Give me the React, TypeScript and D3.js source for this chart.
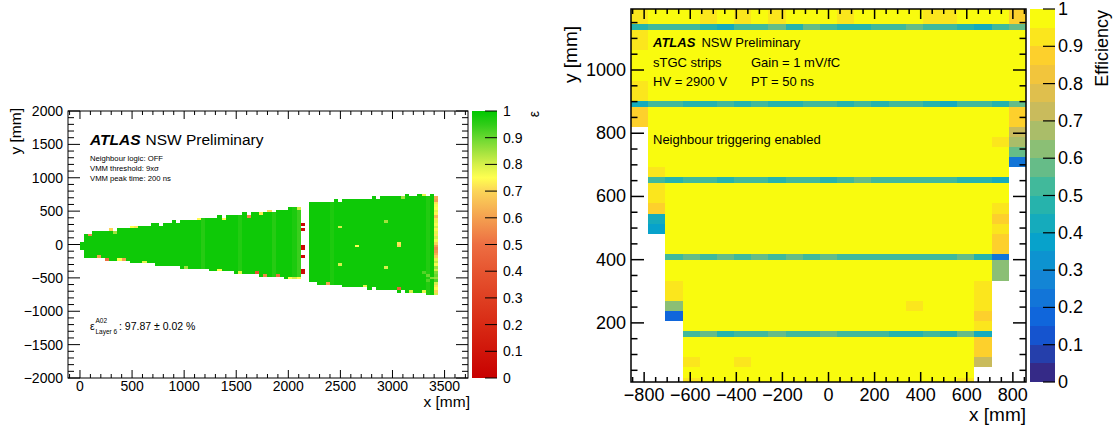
import React from "react";
import * as d3 from "d3";

const FONT = "'Liberation Sans', Arial, Helvetica, sans-serif";

// ---------- left panel: efficiency map, A02 layer 6 ----------
const leftBin = 40; // mm
// upper / lower edge (mm) of every 40 mm column, null = no cells
const leftColTop = [
  40, 160, 160, 200, 200, 200, 200, 240, 200, 240, 240, 240, 280, 280, 280, 280, 280, 320, 320, 280,
  320, 320, 360, 320, 360, 360, 360, 360, 400, 400, 400, 400, 400, 440, 400, 440, 440, 440, 440, 480,
  440, 480, 480, 480, 480, 520, 480, 520, 520, 520, 560, 560, 560, null, null,
  640, 640, 640, 640, 640, 640, 680, 640, 680, 680, 680, 680, 680, 680, 680, 720, 680, 720, 720, 720,
  720, 720, 720, 760, 720, 720, 760, 760, 720, 760, 720,
];
const leftColBottom = [
  -80, -200, -200, -200, -200, -200, -240, -240, -240, -240, -240, -240, -280, -280, -280, -280, -280, -280, -320, -320,
  -320, -320, -320, -320, -360, -360, -360, -360, -360, -360, -360, -400, -400, -400, -400, -400, -400, -440, -440, -440,
  -440, -440, -440, -480, -480, -480, -480, -480, -480, -520, -520, -520, -520, null, null,
  -560, -560, -600, -600, -600, -600, -600, -600, -640, -640, -640, -640, -640, -640, -680, -640, -680, -680, -680, -680,
  -680, -720, -680, -720, -720, -720, -720, -720, -760, -760, -760,
];
const leftBaseEff = 0.985;
// slightly weaker columns [x mm, eff]
const leftStripes = [[1180, 0.96], [1540, 0.965], [1860, 0.96], [2060, 0.97], [2100, 0.94], [2420, 0.97], [3340, 0.965]];
// individual cells [x mm, y mm, eff]
const leftSpots = [
  [100, 140, 0.55], [300, 220, 0.7], [340, 180, 0.85], [500, 260, 0.75], [540, 260, 0.72], [1140, 380, 0.75],
  [1380, 380, 0.75], [1620, 420, 0.55], [1740, 460, 0.73], [1820, 500, 0.7],
  [180, -180, 0.6], [260, -220, 0.5], [380, -220, 0.75], [420, -220, 0.6], [620, -260, 0.78], [1020, -340, 0.85],
  [1340, -380, 0.75], [1540, -420, 0.78], [1700, -420, 0.4], [1780, -460, 0.55], [1900, -460, 0.5],
  [2020, -500, 0.75], [2060, -500, 0.8], [2100, -500, 0.75], [2100, 540, 0.8],
  [2140, 300, 0.03], [2140, 220, 0.05], [2140, -20, 0.03], [2140, -60, 0.05], [2140, -180, 0.04],
  [2140, -380, 0.03], [2140, -420, 0.05],
  [2510, 267, 0.8], [2655, -18, 0.75], [2510, -292, 0.8], [2943, 352, 0.85], [3070, -8, 0.7], [3070, 30, 0.72],
  [2943, -342, 0.8], [2380, -590, 0.6], [2735, -630, 0.78], [3071, -670, 0.45], [3196, -700, 0.8],
  [3291, -700, 0.78], [3310, 740, 0.78], [3100, 700, 0.85],
  [3340, -460, 0.9], [3380, -500, 0.88], [3340, -540, 0.92], [3300, -420, 0.92],
  [3420, 700, 0.62], [3420, 660, 0.6], [3420, 620, 0.72], [3420, 580, 0.76], [3420, 540, 0.75], [3420, 500, 0.78],
  [3420, 460, 0.74], [3420, 420, 0.65], [3420, 380, 0.72], [3420, 340, 0.78], [3420, 300, 0.76], [3420, 260, 0.8],
  [3420, 220, 0.74], [3420, 180, 0.78], [3420, 140, 0.72], [3420, 100, 0.8], [3420, 60, 0.76], [3420, 20, 0.7],
  [3420, -20, 0.6], [3420, -60, 0.55], [3420, -100, 0.58], [3420, -140, 0.62], [3420, -180, 0.68],
  [3420, -220, 0.78], [3420, -260, 0.82], [3420, -300, 0.76], [3420, -340, 0.85], [3420, -380, 0.8],
  [3420, -420, 0.88], [3420, -460, 0.9], [3420, -500, 0.86], [3420, -540, 0.92], [3420, -580, 0.8],
  [3420, -620, 0.72], [3420, -660, 0.75], [3420, -700, 0.7], [3420, -740, 0.8],
];
const leftXTicks = [0, 500, 1000, 1500, 2000, 2500, 3000, 3500];
const leftYTicks = [-2000, -1500, -1000, -500, 0, 500, 1000, 1500, 2000];
const leftZTicks = [0, 0.1, 0.2, 0.3, 0.4, 0.5, 0.6, 0.7, 0.8, 0.9, 1];
const leftPalette: [number, string][] = [
  [0, "#c80000"], [0.2, "#d82a14"], [0.4, "#e65530"], [0.5, "#ed6e42"], [0.6, "#f4a050"], [0.7, "#fbd558"],
  [0.75, "#ffff50"], [0.8, "#d6f04a"], [0.85, "#a0e23e"], [0.9, "#68d830"], [0.95, "#30cc18"], [1, "#00c800"],
];

// ---------- right panel: sTGC strip efficiency ----------
const rightXRange = [-857, 857];
const rightNCols = 23;
const rightRowEdges = [13, 27, 59, 91, 123, 155, 174, 206, 238, 270, 302, 334, 366, 399, 418, 450, 482, 514, 546, 578,
  610, 643, 662, 693, 725, 757, 788, 820, 852, 883, 902, 934, 966, 998, 1030, 1062, 1094, 1125, 1147, 1193];
const rightColMinY = [820, 482, 206, 13, 13, 13, 13, 13, 13, 13, 13, 13, 13, 13, 13, 13, 13, 13, 13, 13, 59, 334, 693];
const rightBaseEff = 0.985;
const rightBandRows = [155, 399, 643, 883, 1125];
const rightBandEff = [
  [null, null, null, 0.52, 0.57, 0.48, 0.52, 0.52, 0.55, 0.52, 0.52, 0.57, 0.52, 0.52, 0.52, 0.48, 0.48, 0.52, 0.48, 0.55, 0.4, null, null],
  [null, null, 0.52, 0.57, 0.52, 0.57, 0.52, 0.57, 0.52, 0.57, 0.52, 0.57, 0.52, 0.52, 0.52, 0.52, 0.52, 0.52, 0.52, 0.57, 0.48, 0.22, null],
  [null, 0.52, 0.48, 0.52, 0.52, 0.48, 0.52, 0.52, 0.48, 0.52, 0.52, 0.48, 0.52, 0.57, 0.52, 0.52, 0.52, 0.52, 0.52, 0.48, 0.48, 0.42, null],
  [0.42, 0.52, 0.52, 0.48, 0.45, 0.52, 0.48, 0.52, 0.45, 0.48, 0.52, 0.52, 0.48, 0.52, 0.48, 0.52, 0.52, 0.48, 0.42, 0.52, 0.52, 0.48, 0.58],
  [0.48, 0.52, 0.52, 0.52, 0.48, 0.42, 0.52, 0.52, 0.57, 0.48, 0.57, 0.52, 0.48, 0.48, 0.52, 0.52, 0.57, 0.52, 0.52, 0.45, 0.42, 0.52, 0.57],
];
// [column, row lower edge mm, eff]
const rightSpecial = [
  [0, 1147, 0.93], [4, 1147, 0.93], [6, 1147, 0.93], [8, 1147, 0.93], [12, 1147, 0.93], [17, 1147, 0.93], [18, 1147, 0.93], [22, 1147, 0.88],
  [0, 1094, 0.93], [0, 1062, 0.93], [0, 934, 0.93], [0, 902, 0.93], [0, 852, 0.88], [0, 820, 0.88],
  [1, 662, 0.93], [1, 610, 0.93], [1, 578, 0.93], [1, 546, 0.87], [1, 514, 0.42], [1, 482, 0.37],
  [2, 302, 0.93], [2, 270, 0.93], [2, 238, 0.6], [2, 206, 0.15],
  [3, 59, 0.93], [3, 13, 0.93], [6, 59, 0.93], [16, 238, 0.93], [19, 13, 0.93],
  [20, 302, 0.93], [20, 270, 0.93], [20, 238, 0.93], [20, 206, 0.88], [20, 174, 0.93], [20, 123, 0.88], [20, 91, 0.88], [20, 59, 0.72],
  [21, 757, 0.93], [21, 546, 0.93], [21, 514, 0.88], [21, 482, 0.93], [21, 450, 0.88], [21, 418, 0.88], [21, 366, 0.6], [21, 334, 0.6],
  [22, 852, 0.87], [22, 820, 0.87], [22, 788, 0.72], [22, 757, 0.67], [22, 725, 0.57], [22, 693, 0.22],
];
const rightXTicks = [-800, -600, -400, -200, 0, 200, 400, 600, 800];
const rightYTicks = [200, 400, 600, 800, 1000];
const rightZTicks = [0, 0.1, 0.2, 0.3, 0.4, 0.5, 0.6, 0.7, 0.8, 0.9, 1];
const birdStops = [0, 0.125, 0.25, 0.375, 0.5, 0.625, 0.75, 0.875, 1];
const birdColors = ["#352a87", "#0f5cdd", "#1481d6", "#06a4ca", "#2eb7a4", "#87bf77", "#d1bb59", "#fec832", "#f9fb0e"];

const fmt = (v: number) => String(v).replace("-", "\u2212");

function Frame({ xs, ys, xMaj, xMin, yMaj, yMin, xLen, yLen, sw }: any) {
  const [l, r] = xs.range();
  const [b, t] = ys.range();
  const segs: number[][] = [];
  const addX = (v: number, len: number) => {
    const p = xs(v);
    segs.push([p, b, p, b - len], [p, t, p, t + len]);
  };
  const addY = (v: number, len: number) => {
    const p = ys(v);
    segs.push([l, p, l + len, p], [r, p, r - len, p]);
  };
  xMaj.forEach((v: number) => addX(v, xLen[0]));
  xMin.forEach((v: number) => addX(v, xLen[1]));
  yMaj.forEach((v: number) => addY(v, yLen[0]));
  yMin.forEach((v: number) => addY(v, yLen[1]));
  return (
    <g stroke="#000" strokeWidth={sw} fill="none">
      {segs.map((s, i) => (
        <line key={i} x1={s[0]} y1={s[1]} x2={s[2]} y2={s[3]} />
      ))}
      <rect x={l} y={t} width={r - l} height={b - t} />
    </g>
  );
}

function LeftPanel() {
  const xL = d3.scaleLinear().domain([-115, 3725]).range([68, 468]);
  const yL = d3.scaleLinear().domain([-2000, 2000]).range([378, 111]);
  const zL = d3.scaleLinear().domain([0, 1]).range([378, 111]);
  const color = d3
    .scaleLinear<string>()
    .domain(leftPalette.map((d) => d[0]))
    .range(leftPalette.map((d) => d[1]))
    .interpolate(d3.interpolateRgb)
    .clamp(true);

  // build the cell map from the outline, then the individual cells
  const cells = new Map<string, { c: number; r: number; e: number }>();
  leftColTop.forEach((top, c) => {
    const bot = leftColBottom[c];
    if (top === null || bot === null) return;
    const stripe = leftStripes.find((s) => Math.floor(s[0] / leftBin) === c);
    for (let r = bot / leftBin; r < top / leftBin; r++) {
      cells.set(`${c},${r}`, { c, r, e: stripe ? stripe[1] : leftBaseEff });
    }
  });
  leftSpots.forEach(([x, y, e]) => {
    const c = Math.floor(x / leftBin);
    const r = Math.floor(y / leftBin);
    cells.set(`${c},${r}`, { c, r, e });
  });

  const xMinor = d3.range(-100, 3701, 100).filter((v) => v % 500 !== 0);
  const yMinor = d3.range(-1900, 1901, 100).filter((v) => v % 500 !== 0);

  return (
    <g>
      <defs>
        <linearGradient id="leftGrad" x1="0" y1="1" x2="0" y2="0">
          {leftPalette.map(([o, c]) => (
            <stop key={o} offset={o} stopColor={c} />
          ))}
        </linearGradient>
      </defs>
      <g shapeRendering="crispEdges">
        {[...cells.values()].map(({ c, r, e }) => (
          <rect
            key={`${c},${r}`}
            x={xL(c * leftBin)}
            y={yL((r + 1) * leftBin)}
            width={xL((c + 1) * leftBin) - xL(c * leftBin)}
            height={yL(r * leftBin) - yL((r + 1) * leftBin)}
            fill={color(e)}
          />
        ))}
      </g>
      <Frame xs={xL} ys={yL} xMaj={leftXTicks} xMin={xMinor} yMaj={leftYTicks} yMin={yMinor} xLen={[8, 4]} yLen={[12, 6]} sw={1} />
      {leftXTicks.map((v) => (
        <text key={v} x={xL(v)} y={391} fontSize={14} textAnchor="middle">{fmt(v)}</text>
      ))}
      {leftYTicks.map((v) => (
        <text key={v} x={63} y={yL(v)} fontSize={14} textAnchor="end" dominantBaseline="central">{fmt(v)}</text>
      ))}
      <text x={470} y={407} fontSize={15.5} textAnchor="end">x [mm]</text>
      <text transform="translate(21,108) rotate(-90)" fontSize={15.5} textAnchor="end">y [mm]</text>

      {/* colour scale */}
      <rect x={472} y={111} width={25} height={267} fill="url(#leftGrad)" />
      {leftZTicks.map((v) => (
        <g key={v}>
          <line x1={485} x2={497} y1={zL(v)} y2={zL(v)} stroke="#000" strokeWidth={1} />
          <text x={503} y={zL(v)} fontSize={14} dominantBaseline="central">{v}</text>
        </g>
      ))}
      <text transform="translate(539,114) rotate(-90)" fontSize={14} textAnchor="middle">ε</text>

      {/* labels */}
      <text x={90} y={145} fontSize={15.5}>
        <tspan fontWeight="bold" fontStyle="italic">ATLAS</tspan>
        <tspan dx={5}>NSW Preliminary</tspan>
      </text>
      <text x={90} y={161} fontSize={7.7}>Neighbour logic: OFF</text>
      <text x={90} y={170.5} fontSize={7.7}>VMM threshold: 9xσ</text>
      <text x={90} y={181} fontSize={7.7}>VMM peak time: 200 ns</text>
      <text x={90} y={330} fontSize={10.5}>ε</text>
      <text x={95.5} y={323} fontSize={6.5}>A02</text>
      <text x={95.5} y={334} fontSize={6.5}>Layer 6</text>
      <text x={119} y={330} fontSize={10.5}>: 97.87 ± 0.02 %</text>
    </g>
  );
}

function RightPanel() {
  const xR = d3.scaleLinear().domain(rightXRange).range([631, 1026]);
  const yR = d3.scaleLinear().domain([13, 1193]).range([382, 9]);
  const zR = d3.scaleLinear().domain([0, 1]).range([382, 9]);
  const bird = d3.scaleLinear<string>().domain(birdStops).range(birdColors).interpolate(d3.interpolateRgb);
  const level = (v: number) => Math.max(0, Math.min(19, Math.floor(v * 20)));
  const levelColor = (v: number) => bird(level(v) / 19);
  const colW = (rightXRange[1] - rightXRange[0]) / rightNCols;

  const cells: { c: number; lo: number; hi: number; e: number }[] = [];
  for (let c = 0; c < rightNCols; c++) {
    for (let i = 0; i < rightRowEdges.length - 1; i++) {
      const lo = rightRowEdges[i];
      const hi = rightRowEdges[i + 1];
      if (lo < rightColMinY[c]) continue;
      const b = rightBandRows.indexOf(lo);
      let e: number | null = b >= 0 ? rightBandEff[b][c] : rightBaseEff;
      const s = rightSpecial.find((d) => d[0] === c && d[1] === lo);
      if (s) e = s[2];
      if (e === null) continue;
      cells.push({ c, lo, hi, e });
    }
  }

  const xMinor = d3.range(-850, 851, 50).filter((v) => v % 200 !== 0);
  const yMinor = d3.range(50, 1151, 50).filter((v) => v % 200 !== 0);

  return (
    <g>
      <g shapeRendering="crispEdges">
        {cells.map(({ c, lo, hi, e }) => (
          <rect
            key={`${c},${lo}`}
            x={xR(rightXRange[0] + c * colW)}
            y={yR(hi)}
            width={xR(rightXRange[0] + (c + 1) * colW) - xR(rightXRange[0] + c * colW)}
            height={yR(lo) - yR(hi)}
            fill={levelColor(e)}
          />
        ))}
      </g>
      <Frame xs={xR} ys={yR} xMaj={rightXTicks} xMin={xMinor} yMaj={rightYTicks} yMin={yMinor} xLen={[10, 5]} yLen={[13, 6.5]} sw={1.5} />
      {rightXTicks.map((v) => (
        <text key={v} x={xR(v)} y={401} fontSize={18} textAnchor="middle">{fmt(v)}</text>
      ))}
      {rightYTicks.map((v) => (
        <text key={v} x={626} y={yR(v)} fontSize={18} textAnchor="end" dominantBaseline="central">{fmt(v)}</text>
      ))}
      <text x={1026} y={421} fontSize={19} textAnchor="end">x [mm]</text>
      <text transform="translate(577,26) rotate(-90)" fontSize={19} textAnchor="end">y [mm]</text>

      {/* colour scale */}
      <g shapeRendering="crispEdges">
        {d3.range(20).map((k) => (
          <rect key={k} x={1030} y={zR((k + 1) / 20)} width={25} height={zR(k / 20) - zR((k + 1) / 20)} fill={bird(k / 19)} />
        ))}
      </g>
      {rightZTicks.map((v) => (
        <g key={v}>
          <line x1={1043} x2={1055} y1={zR(v)} y2={zR(v)} stroke="#000" strokeWidth={1.2} />
          <text x={1058} y={zR(v)} fontSize={18} dominantBaseline="central">{v}</text>
        </g>
      ))}
      <text transform="translate(1108,10) rotate(-90)" fontSize={18} textAnchor="end">Efficiency</text>

      {/* labels */}
      <text x={653} y={47} fontSize={13}>
        <tspan fontWeight="bold" fontStyle="italic">ATLAS</tspan>
        <tspan dx={6}>NSW Preliminary</tspan>
      </text>
      <text x={653} y={67} fontSize={13}>sTGC strips</text>
      <text x={751} y={67} fontSize={13}>Gain = 1 mV/fC</text>
      <text x={653} y={86} fontSize={13}>HV = 2900 V</text>
      <text x={751} y={86} fontSize={13}>PT = 50 ns</text>
      <text x={653} y={144} fontSize={13}>Neighbour triggering enabled</text>
    </g>
  );
}

export default function App() {
  return (
    <svg
      width={1119}
      height={432}
      style={{ position: "absolute", left: 0, top: 0, background: "#fff" }}
      fontFamily={FONT}
    >
      <LeftPanel />
      <RightPanel />
    </svg>
  );
}
